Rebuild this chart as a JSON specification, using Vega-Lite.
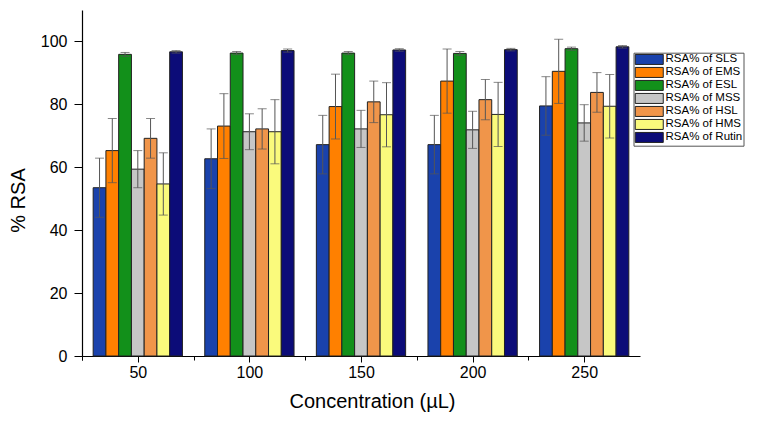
{
  "$schema": "https://vega.github.io/schema/vega-lite/v6.json",
  "width": 558,
  "height": 346,
  "autosize": {"type": "none"},
  "padding": {"left": 82, "top": 10, "right": 118, "bottom": 67},
  "background": "white",
  "config": {
    "font": "Liberation Sans",
    "view": {"stroke": null},
    "axis": {
      "grid": false,
      "domainColor": "#000",
      "tickColor": "#000",
      "labelColor": "#000",
      "titleColor": "#000",
      "labelFont": "Liberation Sans",
      "titleFont": "Liberation Sans",
      "titleFontWeight": "normal"
    }
  },
  "data": {
    "values": [
      {"c": "50", "s": "RSA% of SLS", "v": 53.5, "lo": 44.1, "hi": 62.9},
      {"c": "50", "s": "RSA% of EMS", "v": 65.3, "lo": 55.1, "hi": 75.5},
      {"c": "50", "s": "RSA% of ESL", "v": 95.9, "lo": 95.3, "hi": 96.5},
      {"c": "50", "s": "RSA% of MSS", "v": 59.4, "lo": 53.5, "hi": 65.3},
      {"c": "50", "s": "RSA% of HSL", "v": 69.2, "lo": 62.9, "hi": 75.5},
      {"c": "50", "s": "RSA% of HMS", "v": 54.7, "lo": 44.8, "hi": 64.6},
      {"c": "50", "s": "RSA% of Rutin", "v": 96.7, "lo": 96.3, "hi": 97.1},
      {"c": "100", "s": "RSA% of SLS", "v": 62.7, "lo": 53.2, "hi": 72.2},
      {"c": "100", "s": "RSA% of EMS", "v": 73.1, "lo": 62.8, "hi": 83.4},
      {"c": "100", "s": "RSA% of ESL", "v": 96.3, "lo": 95.8, "hi": 96.8},
      {"c": "100", "s": "RSA% of MSS", "v": 71.3, "lo": 65.6, "hi": 77.0},
      {"c": "100", "s": "RSA% of HSL", "v": 72.2, "lo": 65.8, "hi": 78.6},
      {"c": "100", "s": "RSA% of HMS", "v": 71.3, "lo": 61.1, "hi": 81.5},
      {"c": "100", "s": "RSA% of Rutin", "v": 97.1, "lo": 96.6, "hi": 97.6},
      {"c": "150", "s": "RSA% of SLS", "v": 67.2, "lo": 57.9, "hi": 76.5},
      {"c": "150", "s": "RSA% of EMS", "v": 79.3, "lo": 69.0, "hi": 89.6},
      {"c": "150", "s": "RSA% of ESL", "v": 96.3, "lo": 95.8, "hi": 96.8},
      {"c": "150", "s": "RSA% of MSS", "v": 72.2, "lo": 66.3, "hi": 78.1},
      {"c": "150", "s": "RSA% of HSL", "v": 80.8, "lo": 74.2, "hi": 87.4},
      {"c": "150", "s": "RSA% of HMS", "v": 76.7, "lo": 66.5, "hi": 86.9},
      {"c": "150", "s": "RSA% of Rutin", "v": 97.3, "lo": 96.9, "hi": 97.7},
      {"c": "200", "s": "RSA% of SLS", "v": 67.2, "lo": 57.9, "hi": 76.5},
      {"c": "200", "s": "RSA% of EMS", "v": 87.4, "lo": 77.2, "hi": 97.6},
      {"c": "200", "s": "RSA% of ESL", "v": 96.2, "lo": 95.6, "hi": 96.8},
      {"c": "200", "s": "RSA% of MSS", "v": 71.9, "lo": 66.0, "hi": 77.8},
      {"c": "200", "s": "RSA% of HSL", "v": 81.5, "lo": 75.1, "hi": 87.9},
      {"c": "200", "s": "RSA% of HMS", "v": 76.8, "lo": 66.6, "hi": 87.0},
      {"c": "200", "s": "RSA% of Rutin", "v": 97.4, "lo": 97.0, "hi": 97.8},
      {"c": "250", "s": "RSA% of SLS", "v": 79.5, "lo": 70.2, "hi": 88.8},
      {"c": "250", "s": "RSA% of EMS", "v": 90.5, "lo": 80.3, "hi": 100.7},
      {"c": "250", "s": "RSA% of ESL", "v": 97.7, "lo": 97.2, "hi": 98.2},
      {"c": "250", "s": "RSA% of MSS", "v": 74.1, "lo": 68.3, "hi": 79.9},
      {"c": "250", "s": "RSA% of HSL", "v": 83.8, "lo": 77.5, "hi": 90.1},
      {"c": "250", "s": "RSA% of HMS", "v": 79.4, "lo": 69.3, "hi": 89.5},
      {"c": "250", "s": "RSA% of Rutin", "v": 98.3, "lo": 97.9, "hi": 98.7}
    ]
  },
  "layer": [
    {
      "mark": {"type": "bar", "stroke": "#222", "strokeWidth": 1},
      "encoding": {
        "x": {
          "field": "c", "type": "nominal", "sort": ["50", "100", "150", "200", "250"],
          "scale": {"paddingInner": 0.2, "paddingOuter": 0.1},
          "axis": {
            "orient": "bottom",
            "title": "Concentration (µL)", "titleFontSize": 20, "titleX": 290, "titleY": 51,
            "titleBaseline": "alphabetic", "labelAngle": 0, "labelFontSize": 16,
            "labelPadding": 2, "ticks": true, "bandPosition": 0.5, "tickExtra": false, "tickOffset": 0,
            "tickSize": 6, "tickWidth": 1, "tickColor": "black", "domainWidth": 1.2
          }
        },
        "xOffset": {
          "field": "s", "type": "nominal",
          "sort": ["RSA% of SLS", "RSA% of EMS", "RSA% of ESL", "RSA% of MSS", "RSA% of HSL", "RSA% of HMS", "RSA% of Rutin"],
          "scale": {"paddingInner": 0, "paddingOuter": 0}
        },
        "y": {
          "field": "v", "type": "quantitative",
          "scale": {"domain": [0, 110], "nice": false},
          "axis": {
            "title": "% RSA", "titleFontSize": 20, "titleX": -63.5, "titleY": 190,
            "titleBaseline": "middle", "titleAngle": 270,
            "values": [0, 10, 20, 30, 40, 50, 60, 70, 80, 90, 100, 110],
            "labelExpr": "(datum.value % 20 === 0 && datum.value <= 100) ? datum.label : ''",
            "tickSize": {"condition": {"test": "datum.value % 20 === 0", "value": 8}, "value": 4},
            "labelFontSize": 16, "labelPadding": 7, "domainWidth": 1.2
          }
        },
        "color": {
          "field": "s", "type": "nominal",
          "scale": {
            "domain": ["RSA% of SLS", "RSA% of EMS", "RSA% of ESL", "RSA% of MSS", "RSA% of HSL", "RSA% of HMS", "RSA% of Rutin"],
            "range": ["#1a42ac", "#ff8000", "#12901a", "#c6c6c6", "#f0954a", "#fafa7c", "#0c0c78"]
          },
          "legend": {
            "title": null, "orient": "none", "legendX": 551.5, "legendY": 42.7,
            "padding": 1, "strokeColor": "#555", "fillColor": "white",
            "symbolType": "M-2.8,-1H2.8V1H-2.8Z", "symbolSize": 100,
            "symbolStrokeColor": "#222", "symbolStrokeWidth": 1, "symbolOpacity": 1,
            "symbolOffset": 9, "labelOffset": 10.5, "rowPadding": -3.5,
            "labelFontSize": 11.5, "labelColor": "#000", "labelFont": "Liberation Sans"
          }
        }
      }
    },
    {
      "mark": {"type": "rule", "color": "#555", "strokeWidth": 1},
      "encoding": {
        "x": {
          "field": "c", "type": "nominal", "sort": ["50", "100", "150", "200", "250"],
          "axis": {"orient": "bottom", "bandPosition": 0, "tickExtra": true, "tickOffset": -11.16, "labels": false, "domain": false, "title": null, "ticks": true, "tickSize": 4, "tickColor": "black"}
        },
        "xOffset": {
          "field": "s", "type": "nominal",
          "sort": ["RSA% of SLS", "RSA% of EMS", "RSA% of ESL", "RSA% of MSS", "RSA% of HSL", "RSA% of HMS", "RSA% of Rutin"]
        },
        "y": {"field": "lo", "type": "quantitative"},
        "y2": {"field": "hi"}
      }
    },
    {
      "mark": {"type": "tick", "color": "#555", "size": 9, "thickness": 1},
      "encoding": {
        "x": {"field": "c", "type": "nominal", "sort": ["50", "100", "150", "200", "250"], "axis": null},
        "xOffset": {
          "field": "s", "type": "nominal",
          "sort": ["RSA% of SLS", "RSA% of EMS", "RSA% of ESL", "RSA% of MSS", "RSA% of HSL", "RSA% of HMS", "RSA% of Rutin"]
        },
        "y": {"field": "hi", "type": "quantitative"}
      }
    },
    {
      "mark": {"type": "tick", "color": "#555", "size": 9, "thickness": 1},
      "encoding": {
        "x": {"field": "c", "type": "nominal", "sort": ["50", "100", "150", "200", "250"], "axis": null},
        "xOffset": {
          "field": "s", "type": "nominal",
          "sort": ["RSA% of SLS", "RSA% of EMS", "RSA% of ESL", "RSA% of MSS", "RSA% of HSL", "RSA% of HMS", "RSA% of Rutin"]
        },
        "y": {"field": "lo", "type": "quantitative"}
      }
    }
  ],
  "resolve": {"axis": {"x": "independent"}}
}
